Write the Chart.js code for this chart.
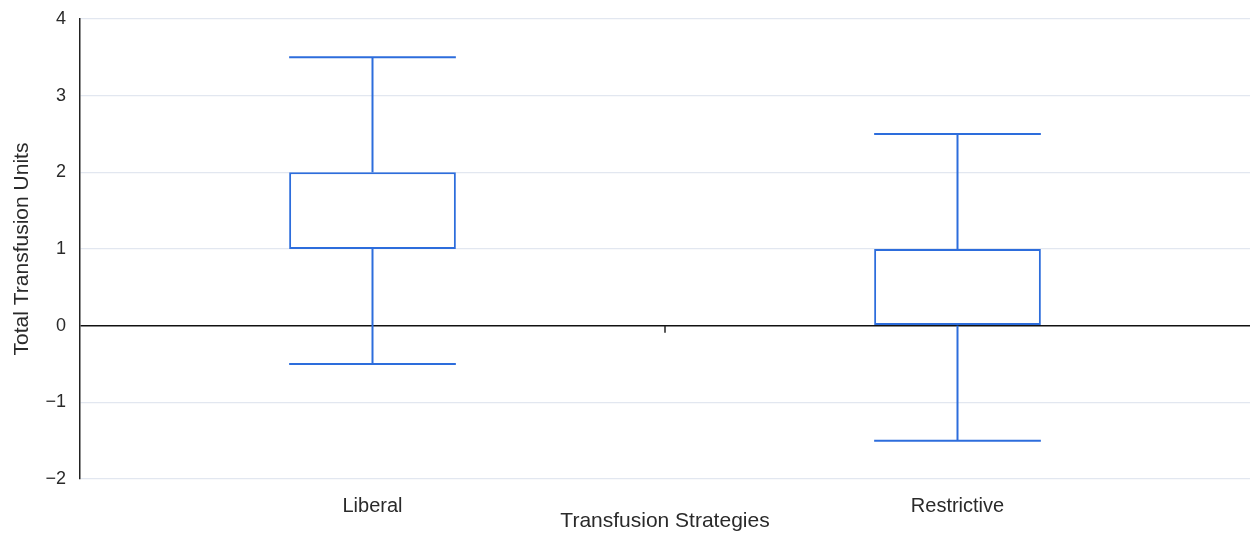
<!DOCTYPE html>
<html>
<head>
<meta charset="utf-8">
<script src="https://cdn.jsdelivr.net/npm/chart.js@4/dist/chart.umd.min.js"></script>
<style>
  html, body { margin: 0; padding: 0; background: #fff; }
  #wrap { width: 1250px; height: 536px; }
</style>
</head>
<body>
<div id="wrap"><canvas id="boxChart"></canvas></div>
<script>
const categories = ['Liberal', 'Restrictive']
const whiskerMin = [-0.5, -1.5]
const quartile1 = [1, 0]
const quartile3 = [2, 1]
const whiskerMax = [3.5, 2.5]
const yTicks = [-2, -1, 0, 1, 2, 3, 4]

const boxBlue = '#2d6ddc'
const fontFamily = 'Liberation Sans, Arial, sans-serif'

// whiskers, caps and the little tick on the zero line
const whiskerPlugin = {
  id: 'whiskers',
  afterDatasetsDraw(chart) {
    const { ctx, scales } = chart
    const x = scales.x
    const y = scales.y
    const meta = chart.getDatasetMeta(0)
    ctx.save()
    ctx.strokeStyle = boxBlue
    ctx.lineWidth = 2
    meta.data.forEach((bar, i) => {
      const cx = x.getPixelForValue(i)
      const half = bar.width / 2
      const pairs = [[whiskerMax[i], quartile3[i]], [quartile1[i], whiskerMin[i]]]
      pairs.forEach(([a, b]) => {
        ctx.beginPath()
        ctx.moveTo(cx, y.getPixelForValue(a))
        ctx.lineTo(cx, y.getPixelForValue(b))
        ctx.stroke()
      })
      ;[whiskerMax[i], whiskerMin[i]].forEach(v => {
        const py = y.getPixelForValue(v)
        ctx.beginPath()
        ctx.moveTo(cx - half, py)
        ctx.lineTo(cx + half, py)
        ctx.stroke()
      })
    })
    // tick between the categories on the zero line
    ctx.strokeStyle = '#222'
    ctx.lineWidth = 1.5
    const zy = y.getPixelForValue(0)
    for (let i = 0; i < categories.length - 1; i++) {
      const bx = x.getPixelForValue(i + 0.5)
      ctx.beginPath()
      ctx.moveTo(bx, zy)
      ctx.lineTo(bx, zy + 7)
      ctx.stroke()
    }
    ctx.restore()
  }
}

new Chart(document.getElementById('boxChart'), {
  type: 'bar',
  data: {
    labels: categories,
    datasets: [
      {
        label: 'Total Transfusion Units',
        data: quartile1.map((q, i) => [q, quartile3[i]]),
        backgroundColor: '#ffffff',
        borderColor: boxBlue,
        borderWidth: 2,
        borderSkipped: false,
        categoryPercentage: 1,
        barPercentage: 0.285,
      },
    ],
  },
  options: {
    responsive: true,
    maintainAspectRatio: false,
    animation: false,
    layout: { padding: { top: 19, right: 0, left: 0, bottom: 0 } },
    plugins: {
      legend: { display: false },
      tooltip: { enabled: false },
    },
    scales: {
      x: {
        afterFit: axis => {
          axis.height = 57
          axis.paddingLeft = 0
          axis.paddingRight = 0
        },
        grid: { display: false },
        border: { display: false },
        ticks: { color: '#2a2a2a', font: { family: fontFamily, size: 20 }, padding: 7 },
        title: {
          display: true,
          text: 'Transfusion Strategies',
          color: '#2a2a2a',
          font: { family: fontFamily, size: 21 },
          padding: { top: 0, bottom: 2 },
        },
      },
      y: {
        min: -2,
        max: 4,
        afterFit: axis => {
          axis.width = 80
          axis.paddingTop = 0
          axis.paddingBottom = 0
        },
        afterBuildTicks: axis => {
          axis.ticks = yTicks.map(v => ({ value: v }))
        },
        grid: {
          color: c => (c.tick && c.tick.value === 0 ? '#111' : '#e2e7f0'),
          lineWidth: c => (c.tick && c.tick.value === 0 ? 1.5 : 1.2),
          drawTicks: false,
        },
        border: { display: true, color: '#222', width: 1.5 },
        ticks: {
          color: '#2a2a2a',
          font: { family: fontFamily, size: 18 },
          padding: 14,
          callback: v => String(v).replace('-', '\u2212'),
        },
        title: {
          display: true,
          text: 'Total Transfusion Units',
          color: '#2a2a2a',
          font: { family: fontFamily, size: 21 },
          padding: { top: 10, bottom: 0 },
        },
      },
    },
  },
  plugins: [whiskerPlugin],
})
</script>
</body>
</html>
